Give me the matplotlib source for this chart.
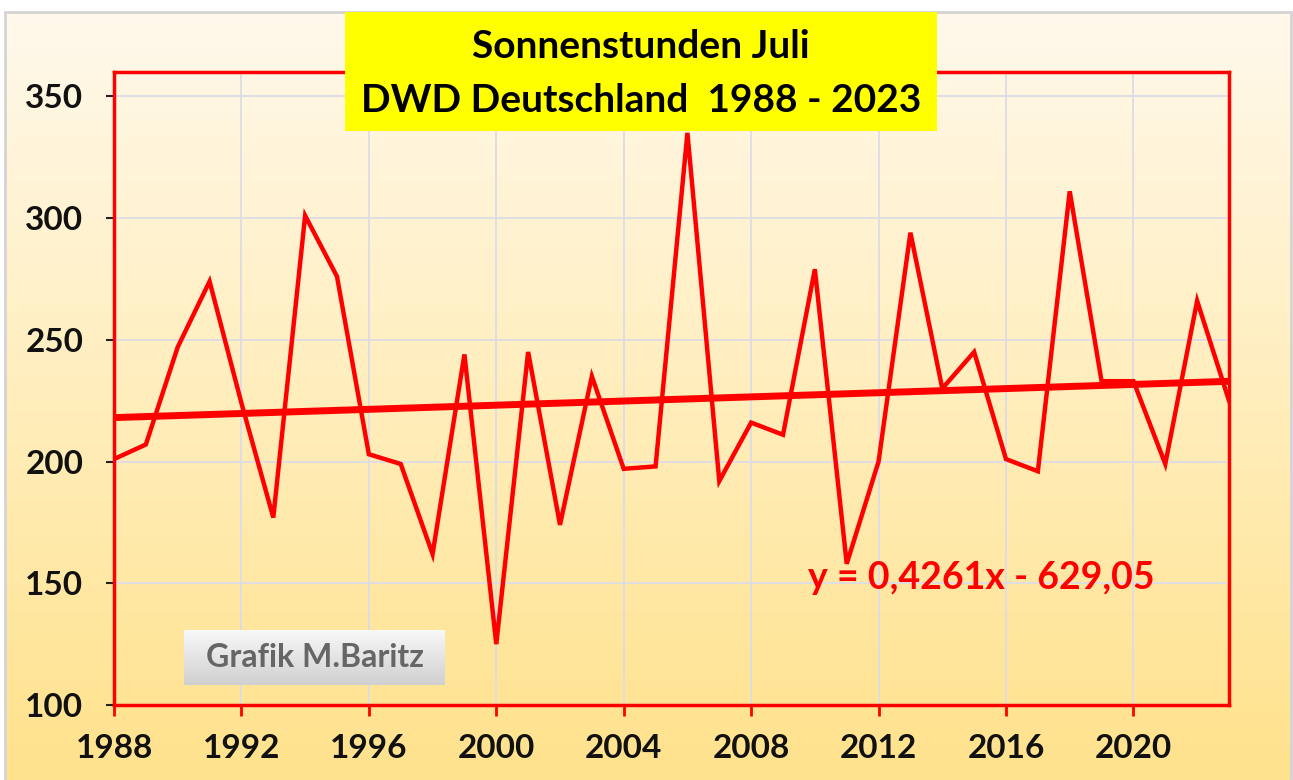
import numpy as np
import matplotlib
matplotlib.use("Agg")
import matplotlib.pyplot as plt
from matplotlib.patches import Rectangle

# Sonnenstunden Juli, DWD Deutschland
years = list(range(1988, 2024))
sun_hours = [201, 207, 247, 274, 224, 177, 301, 276, 203, 199,
             162, 244, 125, 245, 174, 235, 197, 198, 335, 192,
             216, 211, 279, 158, 200, 294, 230, 245, 201, 196,
             311, 233, 233, 199, 266, 225]
# trend line as given in the chart
slope = 0.4261
intercept = -629.05
x_ticks = list(range(1988, 2021, 4))
y_ticks = [100, 150, 200, 250, 300, 350]

plt.rcParams['font.family'] = ['Lato', 'DejaVu Sans']
plt.rcParams['font.weight'] = 'bold'

fig = plt.figure(figsize=(12.93, 7.8), dpi=100)

# background gradient
bg = fig.add_axes([0, 0, 1, 1], zorder=-10)
bg.set_axis_off()
grad = np.linspace(0, 1, 256).reshape(-1, 1)
top = np.array([255, 249, 236]) / 255
bot = np.array([255, 226, 140]) / 255
img = top + (bot - top) * grad[:, :, None]
bg.imshow(img, aspect='auto', extent=[5 / 1293, 1291 / 1293, 0, 1 - 12 / 780])
bg.set_xlim(0, 1)
bg.set_ylim(0, 1)
bg.add_patch(Rectangle((5 / 1293, -0.01), 1286 / 1293, 1 - 12 / 780 + 0.01,
                       fill=False, edgecolor='#d4d4d4', lw=2))

ax = fig.add_axes([114 / 1293, 75 / 780, 1115 / 1293, 633 / 780])
ax.set_facecolor('none')

x = np.array(years)
ax.plot(x, sun_hours, color='#ff0000', lw=3.2, solid_joinstyle='miter', zorder=3)
ax.plot(x, slope * x + intercept, color='#ff0000', lw=5, zorder=3)

ax.set_xlim(1988, 2023)
ax.set_ylim(100, 360)
ax.set_xticks(x_ticks)
ax.set_yticks(y_ticks)
ax.grid(True, color='#dcdce6', lw=1.3, zorder=0)
for s in ax.spines.values():
    s.set_color('#ff0000')
    s.set_linewidth(2.5)
ax.tick_params(axis='x', colors='#ff0000', length=8, width=2, pad=13,
               labelcolor='#111111', labelsize=24)
ax.tick_params(axis='y', colors='#222222', length=6, width=1.5, pad=16,
               labelcolor='#111111', labelsize=24)

ax.text(0.6224, 0.2006, 'y = 0,4261x - 629,05', transform=ax.transAxes,
        color='#ff0000', fontsize=27, fontweight='bold', ha='left', va='center')

# title box
fig.patches.append(Rectangle((345 / 1293, 1 - 131 / 780), 592 / 1293, 119 / 780,
                             transform=fig.transFigure, facecolor='#ffff00',
                             edgecolor='none', zorder=5))
fig.text(641 / 1293, 1 - 46 / 780, 'Sonnenstunden Juli', fontsize=28,
         fontweight='bold', ha='center', va='center', zorder=6)
fig.text(641 / 1293, 1 - 100 / 780, 'DWD Deutschland  1988 - 2023', fontsize=28,
         fontweight='bold', ha='center', va='center', zorder=6)

# watermark
wm = fig.add_axes([184 / 1293, 1 - 685 / 780, 261 / 1293, 55 / 780], zorder=4)
wm.set_axis_off()
g = np.linspace(0, 1, 64).reshape(-1, 1)
wtop = np.array([248, 248, 248]) / 255
wbot = np.array([208, 208, 208]) / 255
wm.imshow(wtop + (wbot - wtop) * g[:, :, None], aspect='auto', extent=[0, 1, 0, 1])
wm.text(0.5, 0.5, 'Grafik M.Baritz', color='#666666', fontsize=23,
        fontweight='bold', ha='center', va='center')

fig.savefig('out.png', dpi=100)
